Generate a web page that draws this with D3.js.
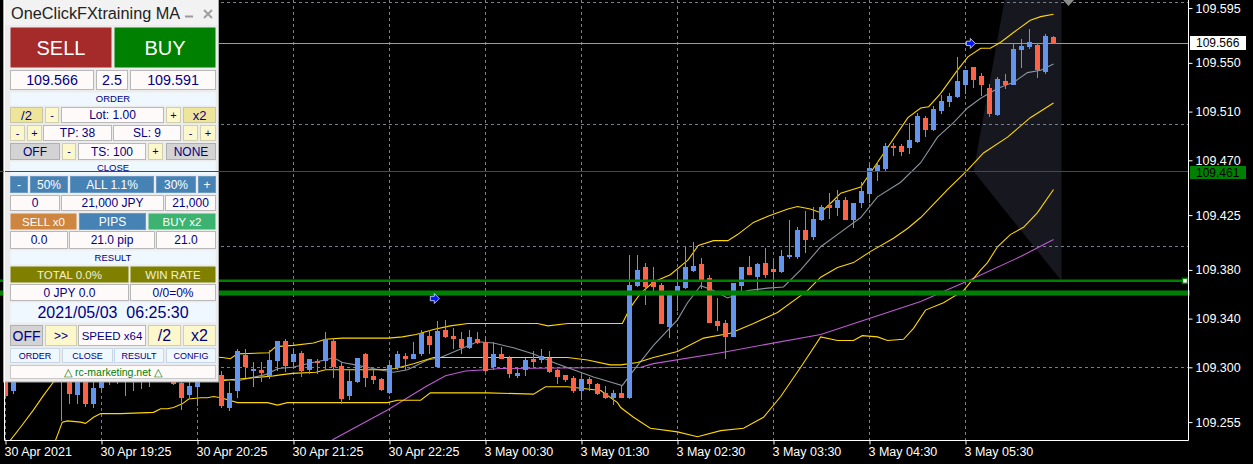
<!DOCTYPE html>
<html><head><meta charset="utf-8">
<script src="https://cdn.jsdelivr.net/npm/d3@7"></script>
<style>html,body{margin:0;padding:0;background:#000;overflow:hidden}svg{display:block}</style>
</head><body>
<svg id="c" width="1253" height="464"></svg>
<script>
// ---------------- DATA ----------------
const opens = [109.302,109.281,109.293,109.302,109.296,109.306,109.310,109.299,109.296,109.278,
109.296,109.271,109.284,109.293,109.299,109.291,109.294,109.298,109.302,109.308,
109.301,109.294,109.287,109.278,109.285,109.301,109.291,109.294,109.267,109.281,
109.310,109.298,109.298,109.294,109.306,109.322,109.305,109.312,109.299,109.305,
109.306,109.322,109.301,109.277,109.289,109.311,109.293,109.290,109.280,109.300,
109.309,109.308,109.312,109.326,109.301,109.331,109.326,109.323,109.317,109.323,
109.321,109.301,109.311,109.308,109.294,109.299,109.307,109.307,109.308,109.298,
109.294,109.291,109.281,109.290,109.286,109.279,109.276,109.279,109.276,109.368,
109.382,109.371,109.368,109.334,109.361,109.366,109.380,109.385,109.373,109.338,
109.336,109.326,109.368,109.382,109.375,109.386,109.381,109.379,109.391,109.391,
109.413,109.408,109.422,109.433,109.432,109.437,109.422,109.436,109.443,109.462,
109.464,109.482,109.482,109.481,109.486,109.505,109.496,109.511,109.519,109.523,
109.533,109.547,109.539,109.529,109.508,109.535,109.533,109.561,109.564,109.565,
109.543,109.571];
const highs = [109.306,109.298,109.304,109.308,109.310,109.314,109.314,109.304,109.302,109.298,
109.299,109.294,109.302,109.306,109.308,109.301,109.304,109.308,109.309,109.313,
109.306,109.301,109.291,109.291,109.299,109.306,109.299,109.297,109.288,109.315,
109.315,109.304,109.304,109.314,109.322,109.323,109.314,109.313,109.307,109.307,
109.329,109.323,109.304,109.299,109.308,109.312,109.298,109.291,109.304,109.313,
109.312,109.321,109.331,109.331,109.338,109.339,109.332,109.329,109.331,109.329,
109.325,109.321,109.317,109.309,109.299,109.308,109.313,109.315,109.313,109.299,
109.294,109.293,109.294,109.292,109.287,109.285,109.281,109.285,109.392,109.392,
109.386,109.382,109.369,109.363,109.380,109.399,109.403,109.390,109.376,109.357,
109.339,109.369,109.382,109.391,109.386,109.398,109.389,109.396,109.421,109.415,
109.428,109.432,109.433,109.443,109.446,109.440,109.435,109.452,109.468,109.469,
109.484,109.484,109.483,109.501,109.509,109.506,109.515,109.524,109.525,109.555,
109.544,109.547,109.542,109.533,109.538,109.541,109.566,109.570,109.578,109.566,
109.574,109.572];
const lows = [109.276,109.279,109.291,109.294,109.293,109.301,109.296,109.257,109.271,109.271,
109.268,109.267,109.282,109.286,109.287,109.277,109.281,109.283,109.285,109.296,
109.291,109.286,109.266,109.276,109.269,109.293,109.290,109.267,109.265,109.276,
109.292,109.285,109.289,109.291,109.298,109.297,109.300,109.293,109.295,109.295,
109.299,109.292,109.271,109.274,109.288,109.285,109.287,109.281,109.279,109.299,
109.299,109.308,109.310,109.312,109.300,109.325,109.316,109.312,109.316,109.320,
109.297,109.299,109.308,109.292,109.292,109.294,109.301,109.304,109.296,109.287,
109.289,109.280,109.274,109.281,109.278,109.275,109.270,109.276,109.275,109.367,
109.352,109.361,109.336,109.325,109.347,109.365,109.379,109.365,109.337,109.331,
109.308,109.326,109.363,109.377,109.363,109.374,109.367,109.378,109.390,109.390,
109.395,109.405,109.421,109.423,109.425,109.422,109.415,109.432,109.436,109.454,
109.462,109.474,109.474,109.476,109.485,109.490,109.495,109.509,109.515,109.522,
109.525,109.530,109.524,109.506,109.507,109.529,109.533,109.547,109.562,109.538,
109.542,109.566];
const closes = [109.277,109.294,109.302,109.296,109.306,109.310,109.299,109.291,109.279,109.294,
109.271,109.283,109.296,109.301,109.304,109.298,109.301,109.304,109.308,109.301,
109.296,109.287,109.276,109.285,109.296,109.298,109.296,109.269,109.279,109.313,
109.301,109.299,109.296,109.306,109.322,109.302,109.311,109.298,109.307,109.304,
109.323,109.301,109.275,109.289,109.308,109.292,109.290,109.282,109.302,109.311,
109.308,109.311,109.328,109.319,109.330,109.326,109.324,109.317,109.325,109.321,
109.298,109.311,109.308,109.295,109.295,109.306,109.305,109.309,109.297,109.293,
109.290,109.281,109.290,109.287,109.279,109.276,109.279,109.276,109.368,109.380,
109.367,109.367,109.336,109.363,109.367,109.382,109.383,109.372,109.337,109.335,
109.326,109.369,109.382,109.377,109.385,109.377,109.379,109.391,109.392,109.413,
109.405,109.422,109.432,109.432,109.437,109.422,109.435,109.445,109.464,109.466,
109.482,109.481,109.478,109.487,109.506,109.496,109.512,109.519,109.523,109.535,
109.544,109.537,109.533,109.509,109.537,109.533,109.561,109.564,109.567,109.545,
109.572,109.566];

const timeTickIdx = [0,12,24,36,48,60,72,84,96,108,120];
const timeLabels = ["30 Apr 2021","30 Apr 19:25","30 Apr 20:25","30 Apr 21:25","30 Apr 22:25",
  "3 May 00:30","3 May 01:30","3 May 02:30","3 May 03:30","3 May 04:30","3 May 05:30"];
const priceTicks = [109.255,109.300,109.340,109.380,109.425,109.470,109.510,109.550,109.595];
const gridPrices = [109.300,109.400,109.500,109.600];

// indicator lines: [bar index, price]
const bbUpper = [[0,109.318],[6.9,109.318],[14.4,109.314],[21.9,109.310],[27.1,109.308],[28.1,109.307],[29,109.311],
 [32.9,109.312],[33.8,109.317],[36,109.318],[38.5,109.320],[40,109.323],[42.1,109.324],[47.9,109.324],[49.6,109.325],
 [51.3,109.327],[53.5,109.331],[55.6,109.334],[57.8,109.336],[64.4,109.336],[66.5,109.336],[67.8,109.334],[70.3,109.336],
 [76,109.336],[77.1,109.336],[78.1,109.349],[79.4,109.361],[81,109.370],[83.1,109.376],[85.3,109.388],[86.6,109.400],
 [88.5,109.404],[90.3,109.404],[91.5,109.409],[93.5,109.419],[95.3,109.424],[97.8,109.430],[99,109.432],[100.6,109.430],
 [101.9,109.427],[103.5,109.437],[104.4,109.443],[106.9,109.448],[109.8,109.476],[112.8,109.505],[114.4,109.513],
 [115.4,109.514],[116.9,109.525],[119,109.544],[120.3,109.555],[121.9,109.562],[123.1,109.562],[124.4,109.567],
 [126,109.575],[128.1,109.585],[129.4,109.588],[131,109.590]];
const bbMiddle = [[0,109.235],[1.9,109.251],[3.5,109.265],[4.75,109.277],[6,109.288],[9.4,109.294],[14.4,109.296],
 [19.4,109.294],[24.4,109.290],[27.1,109.289],[28.4,109.290],[30.3,109.291],[33.5,109.293],[34.6,109.294],[35.9,109.295],
 [38.8,109.296],[40,109.298],[47.1,109.298],[48.75,109.299],[51,109.303],[53.5,109.308],[57.75,109.308],[66,109.308],
 [70.25,109.308],[72.75,109.306],[75.6,109.302],[76.9,109.302],[79,109.304],[81,109.308],[84,109.313],[87.25,109.324],
 [90.6,109.328],[93.5,109.336],[96.5,109.345],[100.25,109.363],[101.9,109.374],[104,109.382],[106,109.386],
 [108.1,109.395],[111,109.406],[112.75,109.414],[114.4,109.423],[117.75,109.446],[120.25,109.462],[122.25,109.476],
 [125.25,109.489],[128.1,109.505],[131,109.517]];
const bbLower = [[6.25,109.240],[7.1,109.255],[7.75,109.256],[9.4,109.255],[10,109.254],[11,109.259],[11.9,109.262],
 [14.4,109.262],[18.5,109.263],[19.4,109.266],[20.25,109.266],[21,109.267],[22.1,109.270],[22.9,109.274],[24.4,109.275],
 [25.25,109.275],[26,109.276],[26.9,109.275],[29,109.271],[32.75,109.271],[34,109.269],[35.25,109.271],[41,109.271],
 [47.75,109.271],[49,109.273],[51.9,109.273],[53.1,109.279],[57.25,109.279],[60.25,109.279],[66,109.278],[67.5,109.284],
 [70.25,109.284],[74.4,109.281],[76.5,109.271],[76.9,109.267],[78.5,109.259],[80.6,109.250],[84,109.247],[86.5,109.243],
 [89.4,109.248],[92.25,109.250],[94.75,109.259],[96.9,109.276],[99.4,109.300],[101.9,109.325],[104,109.322],[106,109.322],
 [107.1,109.326],[109,109.325],[110.25,109.322],[112.25,109.323],[113.5,109.332],[115,109.347],[117.25,109.353],
 [119.75,109.363],[121.9,109.380],[122.75,109.386],[124,109.399],[125.6,109.409],[127.25,109.415],[129,109.427],[131,109.446]];
const fastMA = [[0,109.291],[6.9,109.294],[14.4,109.296],[21.9,109.293],[27.5,109.290],[29.1,109.289],[30.4,109.291],
 [32.5,109.294],[34.1,109.299],[35.9,109.300],[38.4,109.304],[40,109.306],[41,109.308],[42.1,109.304],[43.75,109.302],
 [45.9,109.299],[48.5,109.296],[50.25,109.298],[52.75,109.306],[54.4,109.308],[57.25,109.316],[59,109.321],[61,109.320],
 [63.5,109.316],[66,109.311],[68.5,109.304],[71,109.298],[73.5,109.292],[75.6,109.288],[77.1,109.285],[78.1,109.294],
 [81,109.318],[84,109.339],[85.25,109.353],[86.9,109.367],[88.5,109.363],[90.25,109.357],[92.75,109.363],[95.25,109.365],
 [97.25,109.366],[99.4,109.380],[101.9,109.399],[104.4,109.411],[106.9,109.423],[109,109.440],[111.9,109.452],
 [114.4,109.468],[116.5,109.489],[118.5,109.501],[120.25,109.513],[121.9,109.521],[124,109.529],[126,109.534],
 [127.75,109.542],[129.4,109.544],[131,109.549]];
const slowMA = [[40.6,109.239],[41,109.241],[47.75,109.265],[52.5,109.284],[55,109.293],[57.5,109.297],[60,109.298],
 [61.9,109.299],[79.4,109.300],[81,109.303],[89.4,109.312],[101.9,109.327],[114.4,109.354],[120.6,109.372],
 [126.9,109.391],[131,109.405]];

const bidPrice = 109.566, askPrice = 109.591;
const levelThin = 109.461, levelTP = 109.371, levelEntry = 109.361;
const tradeArrows = [[53.6,109.3565],[120.6,109.566]];
const shadeZone = [[124.9,109.602],[132,109.602],[132,109.371],[121,109.461]];

// ---------------- SCALES ----------------
const W = 1253, H = 464;
const x = d3.scaleLinear().domain([0,120]).range([5.5,965.5]);
const y = d3.scaleLinear().domain([109.240306,109.601642]).range([440,0]);
const svg = d3.select('#c');
svg.append('rect').attr('width',W).attr('height',H).attr('fill','#000');
const defs = svg.append('defs');
defs.append('clipPath').attr('id','plot').append('rect').attr('x',5).attr('y',0).attr('width',1183).attr('height',440);
defs.append('clipPath').attr('id','ttl').append('rect').attr('x',0).attr('y',0).attr('width',181).attr('height',26);
const plot = svg.append('g').attr('clip-path','url(#plot)');

// shaded zone
plot.append('path').attr('d', d3.line()(shadeZone.map(d=>[x(d[0]),y(d[1])]))+'Z').attr('fill','#17171f');

// grid
const gridColor = '#76808c';
plot.selectAll('.vg').data(timeTickIdx).join('line')
  .attr('x1',d=>x(d)).attr('x2',d=>x(d)).attr('y1',0).attr('y2',440)
  .attr('stroke',gridColor).attr('stroke-dasharray','3,3');
plot.selectAll('.hg').data(gridPrices).join('line')
  .attr('x1',5).attr('x2',1188).attr('y1',d=>Math.round(y(d))+0.5).attr('y2',d=>Math.round(y(d))+0.5)
  .attr('stroke',gridColor).attr('stroke-dasharray','3,3');

// bid line
plot.append('line').attr('x1',5).attr('x2',1188).attr('y1',Math.round(y(bidPrice))+0.5).attr('y2',Math.round(y(bidPrice))+0.5)
  .attr('stroke','#9a9aa0');

// indicator lines
const ln = d3.line().x(d=>x(d[0])).y(d=>y(d[1]));
[[slowMA,'#c05ad6'],[fastMA,'#8a949e'],[bbLower,'#ffd700'],[bbMiddle,'#ffd700'],[bbUpper,'#ffd700']].forEach(([arr,col])=>{
  plot.append('path').attr('d',ln(arr)).attr('fill','none').attr('stroke',col).attr('stroke-width',1.1);
});

// candles
const bull='#6495ed', bear='#ff6347';
const cg = plot.append('g').attr('shape-rendering','crispEdges');
opens.forEach((o,i)=>{
  const c = closes[i], h = highs[i], l = lows[i];
  const col = c>=o ? bull : bear;
  const cx = x(i);
  const yh = Math.round(y(h)), yl = Math.round(y(l));
  cg.append('line').attr('x1',cx).attr('x2',cx).attr('y1',yh).attr('y2',yl+1).attr('stroke',col);
  const t = Math.round(y(Math.max(o,c))), b = Math.round(y(Math.min(o,c)));
  cg.append('rect').attr('x',cx-2.5).attr('y',t).attr('width',5).attr('height',Math.max(1,b-t+1)).attr('fill',col);
});

// level lines (objects)
svg.append('line').attr('x1',0).attr('x2',1188).attr('y1',y(levelTP)).attr('y2',y(levelTP)).attr('stroke','#008000').attr('stroke-width',2.5);
svg.append('line').attr('x1',0).attr('x2',1190).attr('y1',y(levelEntry)).attr('y2',y(levelEntry)).attr('stroke','#008000').attr('stroke-width',5);
svg.append('rect').attr('x',1182.5).attr('y',y(levelTP)-2.5).attr('width',5).attr('height',5).attr('fill','#fff').attr('stroke','#008000').attr('stroke-width',1.5);

// trade arrows
const arrowShape = [[-4,-2.2],[0,-2.2],[0,-5],[5,0],[0,5],[0,2.2],[-4,2.2]];
tradeArrows.forEach(([i,p])=>{
  const cx=x(i), cy=y(p);
  svg.append('path').attr('d',d3.line()(arrowShape.map(d=>[cx+d[0],cy+d[1]]))+'Z')
    .attr('fill','#0018ff').attr('stroke','#e8e8ff').attr('stroke-width',0.8);
});

// chart-shift marker
svg.append('path').attr('d','M1063,0 L1074,0 L1068.5,6 Z').attr('fill','#8a8a8a');

// ---------------- PANEL ----------------
const F = "'Liberation Sans', Arial, sans-serif";
const panel = svg.append('g');
panel.append('rect').attr('x',3.5).attr('y',-1).attr('width',215).attr('height',383).attr('fill','#ececec').attr('stroke','#a8a8a8');
panel.append('rect').attr('x',4).attr('y',0).attr('width',214).attr('height',25).attr('fill','#f2f2f2');
panel.append('text').attr('x',11).attr('y',19).attr('font-family',F).attr('font-size',16.3).attr('fill','#222')
  .attr('clip-path','url(#ttl)').text('OneClickFXtraining MA');
panel.append('line').attr('x1',185).attr('x2',193).attr('y1',16.5).attr('y2',16.5).attr('stroke','#9a9a9a').attr('stroke-width',2);
panel.append('path').attr('d','M204,10 L212,18 M212,10 L204,18').attr('stroke','#a0a0a0').attr('stroke-width',2);

const ST = {
  sell:{bg:'#a52a2a',fg:'#fff',fs:20}, buy:{bg:'#008000',fg:'#fff',fs:20},
  wh:{bg:'#fffafa',fg:'#000080',fs:12,bd:'#b8b8b8'}, pr:{bg:'#fffafa',fg:'#000080',fs:14.3,bd:'#b8b8b8'},
  lbl:{bg:'#f0f8ff',fg:'#000080',fs:9.5}, kh:{bg:'#efe59a',fg:'#000080',fs:13,bd:'#c8c8a0'},
  lm:{bg:'#fdf7cc',fg:'#000080',fs:11,bd:'#d0d0b0'}, gr:{bg:'#d3d3d3',fg:'#000080',fs:12,bd:'#b0b0b0'},
  sb:{bg:'#4682b4',fg:'#fff',fs:12,bd:'#6a9ac4'}, pe:{bg:'#cd853f',fg:'#fff',fs:11.5}, sg:{bg:'#3cb371',fg:'#fff',fs:11.5},
  ol:{bg:'#808000',fg:'#f4f0d0',fs:11.5}, dt:{bg:'#f0f8ff',fg:'#000080',fs:16},
  lm2:{bg:'#fdf7cc',fg:'#000080',fs:16,bd:'#d0d0b0'}, lm3:{bg:'#fdf7cc',fg:'#000080',fs:12,bd:'#d0d0b0'},
  gr2:{bg:'#d3d3d3',fg:'#000080',fs:14,bd:'#b0b0b0'}, wh2:{bg:'#fffafa',fg:'#000080',fs:11.5,bd:'#b8b8b8'},
  lnk:{bg:'#fffafa',fg:'#008000',fs:10.5,bd:'#c8c8c8'}, lb2:{bg:'#f0f8ff',fg:'#000080',fs:9,bd:'#c8d8e8'}
};
const panelCells = [
  [10,112,27,68,'SELL','sell'],[114,216,27,68,'BUY','buy'],
  [10,94,70,90,'109.566','pr'],[96,128,70,90,'2.5','pr'],[130,216,70,90,'109.591','pr'],
  [10,216,92,106,'ORDER','lbl'],
  [10,43,107,123,'/2','kh'],[45,59,107,123,'-','lm'],[61,164,107,123,'Lot: 1.00','wh'],[166,181,107,123,'+','lm'],[183,216,107,123,'x2','kh'],
  [10,25,125,141,'-','lm'],[27,42,125,141,'+','lm'],[43,112,125,141,'TP: 38','wh'],[113,181,125,141,'SL: 9','wh'],[183,198,125,141,'-','lm'],[200,216,125,141,'+','lm'],
  [10,60,143,160,'OFF','gr'],[62,76,143,160,'-','lm'],[78,146,143,160,'TS: 100','wh'],[148,163,143,160,'+','lm'],[166,216,143,160,'NONE','gr'],
  [10,216,161,175,'CLOSE','lbl'],
  [10,28,176,193,'-','sb'],[30,68,176,193,'50%','sb'],[70,154,176,193,'ALL 1.1%','sb'],[156,196,176,193,'30%','sb'],[198,216,176,193,'+','sb'],
  [10,60,195,211,'0','wh'],[61,164,195,211,'21,000 JPY','wh'],[165,216,195,211,'21,000','wh'],
  [10,77,213,230,'SELL x0','pe'],[79,146,213,230,'PIPS','sb'],[148,216,213,230,'BUY x2','sg'],
  [10,68,231,249,'0.0','wh'],[69,155,231,249,'21.0 pip','wh'],[156,216,231,249,'21.0','wh'],
  [10,216,250,265,'RESULT','lbl'],
  [10,129,266,283,'TOTAL 0.0%','ol'],[130,216,266,283,'WIN RATE','ol'],
  [10,129,284,301,'0 JPY 0.0','wh'],[130,216,284,301,'0/0=0%','wh'],
  [10,216,302,323,'2021/05/03  06:25:30','dt'],
  [10,43,325,346,'OFF','gr2'],[45,77,325,346,'>>','lm3'],[78,146,325,346,'SPEED x64','wh2'],[148,181,325,346,'/2','lm2'],[183,216,325,346,'x2','lm2'],
  [10,60,348,363,'ORDER','lb2'],[62,113,348,363,'CLOSE','lb2'],[114,164,348,363,'RESULT','lb2'],[166,216,348,363,'CONFIG','lb2'],
  [10,216,365,379,'\u25B3 rc-marketing.net \u25B3','lnk']
];
panelCells.forEach(([x0,x1,y0,y1,t,s])=>{
  const st = ST[s];
  panel.append('rect').attr('x',x0+0.5).attr('y',y0+0.5).attr('width',x1-x0-1).attr('height',y1-y0-1)
    .attr('fill',st.bg).attr('stroke',st.bd||'none');
  panel.append('text').attr('x',(x0+x1)/2).attr('y',(y0+y1)/2).attr('dy','0.36em').attr('text-anchor','middle')
    .attr('font-family',F).attr('font-size',st.fs).attr('fill',st.fg).attr('xml:space','preserve').style('white-space','pre').text(t);
});

// thin level line drawn over panel
svg.append('line').attr('x1',0).attr('x2',1188).attr('y1',Math.round(y(levelThin))+0.5).attr('y2',Math.round(y(levelThin))+0.5)
  .attr('stroke','#007a00');

// ---------------- AXES ----------------
const AF = "'Liberation Sans', Arial, sans-serif";
const yAx = svg.append('g').attr('transform','translate(1188.5,0)').attr('color','#fff')
  .call(d3.axisRight(y).tickValues(priceTicks).tickFormat(d3.format('.3f')).tickSize(4).tickSizeOuter(0).tickPadding(3));
yAx.select('.domain').remove();
yAx.selectAll('text').attr('font-family',AF).attr('font-size',12.5).attr('fill','#fff');
const xAx = svg.append('g').attr('transform','translate(0,440.5)').attr('color','#fff')
  .call(d3.axisBottom(x).tickValues(timeTickIdx).tickFormat((d,i)=>timeLabels[i]).tickSize(4).tickSizeOuter(0).tickPadding(3));
xAx.select('.domain').remove();
xAx.selectAll('text').attr('text-anchor','start').attr('dx',-1.5).attr('font-family',AF).attr('font-size',12.5).attr('fill','#fff');
// frame
svg.append('path').attr('d','M4.5,0 V440.5 H1188.5 V0').attr('fill','none').attr('stroke','#fff');

// price tags
[[bidPrice,'#ffffff','#000',7,14],[levelThin,'#008000','#000',5,13]].forEach(([p,bg,fg,up,hh])=>{
  const cy = y(p);
  const top = Math.round(cy)-up;
  svg.append('rect').attr('x',1190).attr('y',top).attr('width',56).attr('height',hh).attr('fill',bg);
  svg.append('text').attr('x',1196).attr('y',top+hh/2).attr('dy','0.36em').attr('font-family',AF).attr('font-size',12)
    .attr('fill',fg).text(d3.format('.3f')(p));
});
</script>
</body></html>
